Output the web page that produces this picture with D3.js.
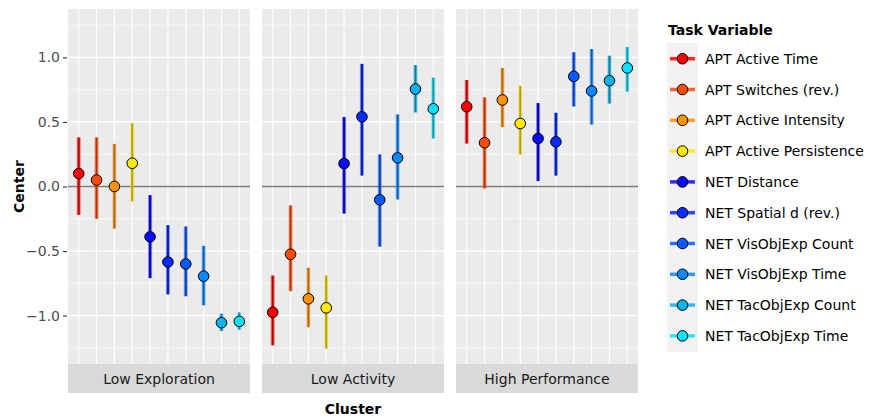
<!DOCTYPE html>
<html>
<head>
<meta charset="utf-8">
<script src="https://cdn.jsdelivr.net/npm/d3@7"></script>
<style>
  body { margin: 0; background: #fff; }
  text { font-family: "DejaVu Sans", sans-serif; }
</style>
</head>
<body>
<div id="chart"></div>
<script>
//--------------------------------------------------------------------------------
var variables = ["APT Active Time", "APT Switches (rev.)", "APT Active Intensity",
                 "APT Active Persistence", "NET Distance", "NET Spatial d (rev.)",
                 "NET VisObjExp Count", "NET VisObjExp Time", "NET TacObjExp Count",
                 "NET TacObjExp Time"];
var colors = ["#ff0000", "#ff4a0a", "#ff920a", "#ffe80a", "#0a0aff", "#0a2aff",
              "#0a58ff", "#0a88ff", "#0ab2f0", "#0ae0ff"];
var clusters = ["Low Exploration", "Low Activity", "High Performance"];

  // center, lower, upper per cluster, in variable order
var centerLowExp = [0.10, 0.05, 0.00, 0.18, -0.39, -0.585, -0.60, -0.695, -1.055, -1.045];
var lowerLowExp  = [-0.22, -0.25, -0.325, -0.115, -0.71, -0.835, -0.85, -0.92, -1.12, -1.11];
var upperLowExp  = [0.38, 0.38, 0.33, 0.49, -0.067, -0.30, -0.31, -0.46, -0.985, -0.975];

var centerLowAct = [-0.975, -0.525, -0.87, -0.94, 0.178, 0.54, -0.103, 0.222, 0.755, 0.602];
var lowerLowAct  = [-1.23, -0.81, -1.09, -1.255, -0.209, 0.085, -0.465, -0.10, 0.574, 0.372];
var upperLowAct  = [-0.69, -0.147, -0.63, -0.69, 0.538, 0.95, 0.248, 0.558, 0.94, 0.843];

var centerHighPerf = [0.618, 0.339, 0.67, 0.488, 0.372, 0.346, 0.853, 0.74, 0.82, 0.918];
var lowerHighPerf  = [0.333, -0.015, 0.46, 0.248, 0.042, 0.085, 0.62, 0.48, 0.643, 0.736];
var upperHighPerf  = [0.825, 0.69, 0.918, 0.78, 0.646, 0.571, 1.04, 1.065, 1.013, 1.08];

var yTicks = [-1.0, -0.5, 0.0, 0.5, 1.0];
var yMinor = [-1.25, -0.75, -0.25, 0.25, 0.75, 1.25];
//--------------------------------------------------------------------------------
var panelData = [
   {center: centerLowExp, lower: lowerLowExp, upper: upperLowExp},
   {center: centerLowAct, lower: lowerLowAct, upper: upperLowAct},
   {center: centerHighPerf, lower: lowerHighPerf, upper: upperHighPerf}
   ];

var width = 869, height = 418;
var panelLeft = [68, 262, 456];
var panelWidth = 182;
var panelTop = 9, panelBottom = 364;
var stripHeight = 29;
var fontSize = "14px";

var svg = d3.select("#chart").append("svg")
    .attr("width", width)
    .attr("height", height);

var yScale = d3.scaleLinear()
    .domain([-1.375, 1.375])
    .range([panelBottom, panelTop]);

var xScale = d3.scalePoint()
    .domain(variables)
    .range([0, panelWidth])
    .padding(0.6);

function darker(c, t) { return d3.interpolateRgb(c, "#000")(t); }

panelData.forEach(function(pd, p){
   var g = svg.append("g").attr("transform", "translate(" + panelLeft[p] + ",0)");

   g.append("rect")
    .attr("x", 0).attr("y", panelTop)
    .attr("width", panelWidth).attr("height", panelBottom - panelTop)
    .attr("fill", "#ebebeb");

   g.selectAll("line.minor").data(yMinor).enter().append("line")
    .attr("x1", 0).attr("x2", panelWidth)
    .attr("y1", function(d){ return yScale(d); })
    .attr("y2", function(d){ return yScale(d); })
    .attr("stroke", "#fff").attr("stroke-width", 0.6);

   g.selectAll("line.major").data(yTicks).enter().append("line")
    .attr("x1", 0).attr("x2", panelWidth)
    .attr("y1", function(d){ return yScale(d); })
    .attr("y2", function(d){ return yScale(d); })
    .attr("stroke", "#fff").attr("stroke-width", 1.2);

   g.selectAll("line.vgrid").data(variables).enter().append("line")
    .attr("x1", function(d){ return xScale(d); })
    .attr("x2", function(d){ return xScale(d); })
    .attr("y1", panelTop).attr("y2", panelBottom)
    .attr("stroke", "#fff").attr("stroke-width", 1.2);

   g.append("line")
    .attr("x1", 0).attr("x2", panelWidth)
    .attr("y1", yScale(0)).attr("y2", yScale(0))
    .attr("stroke", "#7f7f7f").attr("stroke-width", 1.5);

   var idx = d3.range(variables.length);

     // ranges: wide faded band, then a darker core
   g.selectAll("line.outer").data(idx).enter().append("line")
    .attr("x1", function(i){ return xScale(variables[i]); })
    .attr("x2", function(i){ return xScale(variables[i]); })
    .attr("y1", function(i){ return yScale(pd.lower[i]); })
    .attr("y2", function(i){ return yScale(pd.upper[i]); })
    .attr("stroke", function(i){ return colors[i]; })
    .attr("stroke-opacity", 0.5)
    .attr("stroke-width", 4);

   g.selectAll("line.inner").data(idx).enter().append("line")
    .attr("x1", function(i){ return xScale(variables[i]); })
    .attr("x2", function(i){ return xScale(variables[i]); })
    .attr("y1", function(i){ return yScale(pd.lower[i]); })
    .attr("y2", function(i){ return yScale(pd.upper[i]); })
    .attr("stroke", function(i){ return darker(colors[i], 0.3); })
    .attr("stroke-width", 2);

   g.selectAll("circle").data(idx).enter().append("circle")
    .attr("cx", function(i){ return xScale(variables[i]); })
    .attr("cy", function(i){ return yScale(pd.center[i]); })
    .attr("r", 5.3)
    .attr("fill", function(i){ return colors[i]; })
    .attr("stroke", "#000")
    .attr("stroke-width", 1);

   g.append("rect")
    .attr("x", 0).attr("y", panelBottom)
    .attr("width", panelWidth).attr("height", stripHeight)
    .attr("fill", "#d9d9d9");

   g.append("text")
    .attr("x", panelWidth / 2).attr("y", panelBottom + stripHeight / 2 + 5)
    .attr("text-anchor", "middle")
    .attr("font-size", fontSize)
    .attr("fill", "#1a1a1a")
    .text(clusters[p]);
});

  // y axis
var yAxis = d3.axisLeft(yScale)
    .tickValues(yTicks)
    .tickSize(4)
    .tickPadding(3)
    .tickFormat(d3.format(".1f"));

var ga = svg.append("g")
    .attr("transform", "translate(" + (panelLeft[0] - 1) + ",0)")
    .call(yAxis);
ga.select(".domain").remove();
ga.selectAll(".tick line").attr("stroke", "#333").attr("stroke-width", 1.1);
ga.selectAll(".tick text")
  .attr("font-family", "DejaVu Sans, sans-serif")
  .attr("font-size", fontSize)
  .attr("fill", "#4d4d4d");

svg.append("text")
   .attr("transform", "translate(24," + ((panelTop + panelBottom) / 2) + ") rotate(-90)")
   .attr("text-anchor", "middle")
   .attr("font-size", fontSize)
   .attr("font-weight", "bold")
   .text("Center");

svg.append("text")
   .attr("x", (panelLeft[0] + panelLeft[2] + panelWidth) / 2)
   .attr("y", 414)
   .attr("text-anchor", "middle")
   .attr("font-size", fontSize)
   .attr("font-weight", "bold")
   .text("Cluster");

  // legend
var legX = 668, legY0 = 58.7, legStep = 30.8;
svg.append("text")
   .attr("x", legX).attr("y", 35)
   .attr("font-size", fontSize)
   .attr("font-weight", "bold")
   .text("Task Variable");

svg.append("rect")
   .attr("x", legX - 1).attr("y", 43)
   .attr("width", 31).attr("height", legStep * variables.length + 1)
   .attr("fill", "#f2f2f2");

var leg = svg.selectAll("g.legend").data(variables).enter().append("g")
   .attr("transform", function(d, i){ return "translate(" + legX + "," + (legY0 + i * legStep) + ")"; });

leg.append("line")
   .attr("x1", 2).attr("x2", 27).attr("y1", 0).attr("y2", 0)
   .attr("stroke", function(d, i){ return colors[i]; })
   .attr("stroke-opacity", 0.85)
   .attr("stroke-width", 3.5);

leg.append("circle")
   .attr("cx", 14.5).attr("cy", 0).attr("r", 5.3)
   .attr("fill", function(d, i){ return colors[i]; })
   .attr("stroke", "#000").attr("stroke-width", 1);

leg.append("text")
   .attr("x", 37).attr("y", 5)
   .attr("font-size", fontSize)
   .attr("fill", "#000")
   .text(function(d){ return d; });
//--------------------------------------------------------------------------------
</script>
</body>
</html>
